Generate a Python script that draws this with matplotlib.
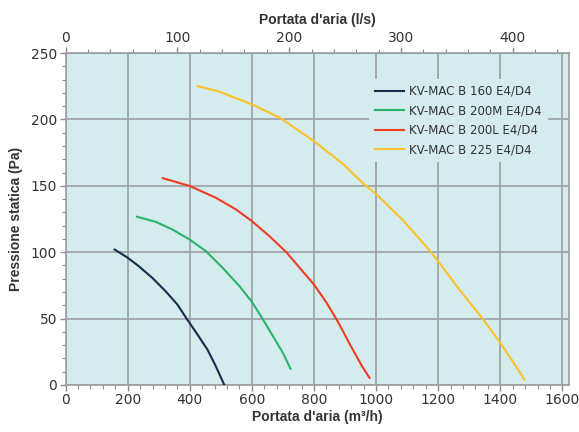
import matplotlib
matplotlib.use("Agg")
import matplotlib.pyplot as plt
from matplotlib.ticker import MultipleLocator, FixedLocator
from matplotlib import font_manager

names = {f.name for f in font_manager.fontManager.ttflist}
tick_font = "Liberation Sans Narrow" if "Liberation Sans Narrow" in names else "DejaVu Sans Condensed"

labels = ["KV-MAC B 160 E4/D4", "KV-MAC B 200M E4/D4", "KV-MAC B 200L E4/D4", "KV-MAC B 225 E4/D4"]
colors = ["#1b2a4a", "#2bb36e", "#ef3b24", "#fcc22a"]

q160 = [158, 199, 236, 279, 322, 360, 392, 425, 457, 484, 511]
p160 = [102, 96, 89.4, 80.7, 70.6, 60.6, 49.2, 37.9, 26.6, 14, 0]
q200m = [230, 290, 344, 399, 452, 506, 560, 600, 636, 668, 700, 724]
p200m = [126.7, 122.9, 117.1, 109.6, 100.8, 88.2, 74.4, 62.6, 49.2, 36.7, 24.1, 12.3]
q200l = [313, 401, 484, 549, 600, 657, 711, 754, 800, 841, 879, 916, 955, 979]
p200l = [155.8, 149.8, 141, 132.2, 123.4, 112, 100, 88.2, 75.6, 61.8, 46.8, 30.4, 14, 5.3]
q225 = [425, 495, 600, 690, 800, 895, 960, 1000, 1084, 1170, 1200, 1268, 1343, 1400, 1440, 1478]
p225 = [225.2, 221, 211.4, 201.4, 183.7, 166.1, 151.5, 143.8, 124.7, 102, 93.2, 71.9, 50, 31.7, 17.8, 4]

x_ticks = [0, 200, 400, 600, 800, 1000, 1200, 1400, 1600]
top_ticks = [0, 100, 200, 300, 400]
y_ticks = [0, 50, 100, 150, 200, 250]

series = [(q160, p160), (q200m, p200m), (q200l, p200l), (q225, p225)]

fig = plt.figure(figsize=(5.79, 4.32), dpi=100)
ax = fig.add_axes([0.1133, 0.109, 0.8687, 0.768])
ax.set_facecolor("#d4ecee")
for (q, p), c, l in zip(series, colors, labels):
    ax.plot(q, p, color=c, lw=1.5, label=l, zorder=3, solid_joinstyle="round")

ax.set_xlim(0, 1620)
ax.set_ylim(0, 250)
ax.xaxis.set_major_locator(FixedLocator(x_ticks))
ax.xaxis.set_minor_locator(MultipleLocator(40))
ax.yaxis.set_major_locator(FixedLocator(y_ticks))
ax.yaxis.set_minor_locator(MultipleLocator(10))
ax.grid(True, which="major", color="#9a9ea2", lw=1.2, zorder=1)
ax.set_axisbelow(True)
for s in ax.spines.values():
    s.set_color("#9a9ea2")
    s.set_linewidth(1.2)
ax.tick_params(which="both", direction="out", color="#8a8e92", labelsize=10, pad=2)
ax.tick_params(which="major", length=4, width=1)
ax.tick_params(which="minor", length=3, width=0.8)
for t in ax.get_xticklabels() + ax.get_yticklabels():
    t.set_fontfamily(tick_font)
    t.set_color("#333333")

sec = ax.secondary_xaxis("top", functions=(lambda x: x / 3.6, lambda x: x * 3.6))
sec.xaxis.set_major_locator(FixedLocator(top_ticks))
sec.xaxis.set_minor_locator(MultipleLocator(20))
sec.tick_params(which="both", direction="out", color="#8a8e92", labelsize=10, pad=2)
sec.tick_params(which="major", length=4, width=1)
sec.tick_params(which="minor", length=3, width=0.8)
sec.spines["top"].set_color("#9a9ea2")
for t in sec.get_xticklabels():
    t.set_fontfamily(tick_font)
    t.set_color("#333333")

lab = dict(fontsize=10, fontweight="bold", fontfamily="Liberation Sans", color="#333333")
sec.set_xlabel("Portata d'aria (l/s)", labelpad=5, **lab)
ax.set_xlabel("Portata d'aria (m³/h)", labelpad=2, **lab)
ax.set_ylabel("Pressione statica (Pa)", labelpad=6, **lab)

leg = ax.legend(loc="upper left", bbox_to_anchor=(0.591, 0.94), frameon=True,
                facecolor="#d4ecee", edgecolor="none", framealpha=1,
                fontsize=8.5, handlelength=2.5, handletextpad=0.45,
                labelspacing=0.55, borderpad=0.5, fancybox=False)
for t in leg.get_texts():
    t.set_color("#333333")
leg.set_zorder(4)

fig.savefig("out.png", dpi=100)
